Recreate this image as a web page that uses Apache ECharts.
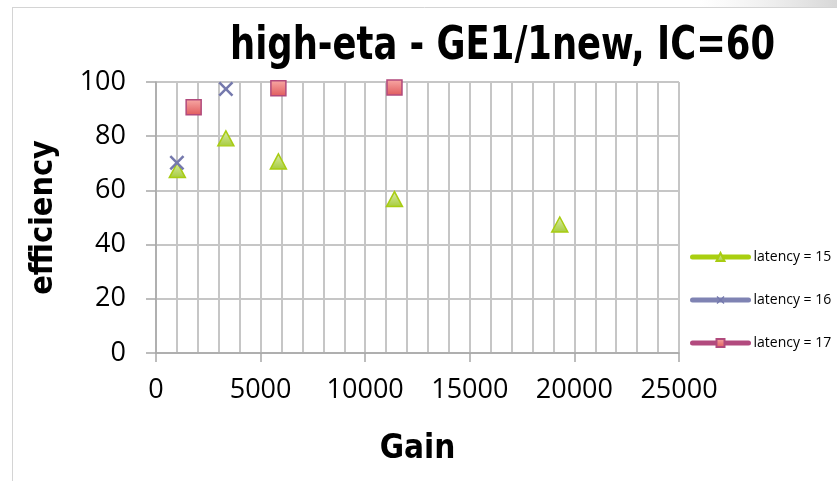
<!DOCTYPE html>
<html>
<head>
<meta charset="utf-8">
<title>high-eta - GE1/1new, IC=60</title>
<script src="https://cdn.jsdelivr.net/npm/echarts@6/dist/echarts.min.js"></script>
<style>
  html, body { margin: 0; padding: 0; background: #ffffff; }
  #chart { width: 837px; height: 481px; }
</style>
</head>
<body>
<div id="chart"></div>
<script>
// Gain vs. efficiency for three latency settings
const latency15 = [[1020, 67.5], [3340, 79.2], [5850, 70.7], [11400, 56.8], [19300, 47.4]];
const latency16 = [[1000, 70.2], [3340, 97.4]];
const latency17 = [[1800, 90.7], [5850, 97.7], [11400, 98.0]];

const seriesNames = ['latency = 15', 'latency = 16', 'latency = 17'];
const xTicks = { min: 0, max: 25000, step: 5000 };
const yTicks = { min: 0, max: 100, step: 20 };
const chartTitle = 'high-eta - GE1/1new, IC=60';

const cond = '"DejaVu Sans Condensed", "DejaVu Sans", sans-serif';
const body = '"Open Sans", "Liberation Sans", sans-serif';
const gridColor = '#c6c6c6';

// thin-armed X drawn as a filled polygon
const crossPath = 'path://M0,1.2L1.2,0L5,3.8L8.8,0L10,1.2L6.2,5L10,8.8L8.8,10L5,6.2L1.2,10L0,8.8L3.8,5Z';

// squeeze the heading horizontally so it sits in a 545px-wide band
const titleFont = 'bold 46px ' + cond;
const measureCtx = document.createElement('canvas').getContext('2d');
measureCtx.font = titleFont;
const titleScale = 545 / measureCtx.measureText(chartTitle).width;

const chart = echarts.init(document.getElementById('chart'), null, { renderer: 'canvas' });

chart.setOption({
  backgroundColor: '#ffffff',
  animation: false,
  graphic: [
    { type: 'line', shape: { x1: 12.5, y1: 7, x2: 12.5, y2: 481 }, style: { stroke: '#d4d4d4', lineWidth: 1 }, silent: true },
    { type: 'line', shape: { x1: 12, y1: 7.5, x2: 837, y2: 7.5 }, style: { stroke: '#d4d4d4', lineWidth: 1 }, silent: true },
    {
      type: 'rect', shape: { x: 700, y: 0, width: 137, height: 7 }, silent: true,
      style: { fill: new echarts.graphic.LinearGradient(0, 0, 1, 0, [
        { offset: 0, color: 'rgba(230,230,230,0)' }, { offset: 1, color: 'rgba(215,215,215,1)' }
      ]) }
    },
    {
      type: 'text', x: 230, y: 47, scaleX: titleScale, silent: true,
      style: { text: chartTitle, font: titleFont, fill: '#000', align: 'left', verticalAlign: 'middle' }
    }
  ],
  legend: {
    orient: 'vertical',
    left: 685,
    top: 245,
    itemWidth: 56,
    itemHeight: 10,
    itemGap: 29,
    textStyle: { fontFamily: body, fontSize: 14, color: '#000' },
    data: [
      { name: seriesNames[0], lineStyle: { width: 5, color: '#a9cf10', opacity: 1, cap: 'round' } },
      { name: seriesNames[1], lineStyle: { width: 5, color: '#7f83b3', opacity: 1, cap: 'round' } },
      { name: seriesNames[2], lineStyle: { width: 5, color: '#b24a7e', opacity: 1, cap: 'round' } }
    ]
  },
  grid: { left: 156, right: 158, top: 82, bottom: 128, containLabel: false },
  xAxis: {
    type: 'value',
    min: xTicks.min, max: xTicks.max, interval: xTicks.step,
    name: 'Gain',
    nameLocation: 'middle',
    nameGap: 80,
    nameTextStyle: { fontFamily: cond, fontWeight: 'bold', fontSize: 33, color: '#000' },
    axisLine: { show: true, lineStyle: { color: '#a8a8a8', width: 1.5 } },
    axisTick: { show: true, inside: false, length: 9, lineStyle: { color: '#a8a8a8', width: 1.5 } },
    axisLabel: { margin: 24, fontFamily: body, fontSize: 27, color: '#000', formatter: v => String(v) },
    splitLine: { show: true, lineStyle: { color: gridColor, width: 2 } },
    minorTick: { show: false, splitNumber: 5 },
    minorSplitLine: { show: true, lineStyle: { color: gridColor, width: 2 } }
  },
  yAxis: {
    type: 'value',
    min: yTicks.min, max: yTicks.max, interval: yTicks.step,
    name: 'efficiency',
    nameLocation: 'middle',
    nameGap: 96,
    nameRotate: 90,
    nameTextStyle: { fontFamily: cond, fontWeight: 'bold', fontSize: 32, color: '#000' },
    axisLine: { show: true, lineStyle: { color: '#a8a8a8', width: 1.5 } },
    axisTick: { show: true, inside: false, length: 10, lineStyle: { color: '#a8a8a8', width: 1.5 } },
    axisLabel: { margin: 30, fontFamily: body, fontSize: 27, color: '#000', formatter: v => String(v) },
    splitLine: { show: true, lineStyle: { color: gridColor, width: 2 } }
  },
  series: [
    {
      name: seriesNames[0],
      type: 'line',
      data: latency15,
      symbol: 'triangle',
      symbolSize: [16, 15],
      lineStyle: { width: 0, opacity: 0 },
      itemStyle: {
        color: new echarts.graphic.LinearGradient(0, 0, 0, 1, [
          { offset: 0, color: '#dcebb0' }, { offset: 1, color: '#a6cc3a' }
        ]),
        borderColor: '#a8cc12',
        borderWidth: 1.5
      }
    },
    {
      name: seriesNames[1],
      type: 'line',
      data: latency16,
      symbol: crossPath,
      symbolSize: 15,
      lineStyle: { width: 0, opacity: 0 },
      itemStyle: { color: '#7579ad', borderWidth: 0 }
    },
    {
      name: seriesNames[2],
      type: 'line',
      data: latency17,
      symbol: 'rect',
      symbolSize: 15,
      lineStyle: { width: 0, opacity: 0 },
      itemStyle: {
        color: new echarts.graphic.LinearGradient(0, 0, 0, 1, [
          { offset: 0, color: '#f8aaa6' }, { offset: 1, color: '#e05a5c' }
        ]),
        borderColor: '#b14a7c',
        borderWidth: 1.5
      }
    }
  ]
});
</script>
</body>
</html>
